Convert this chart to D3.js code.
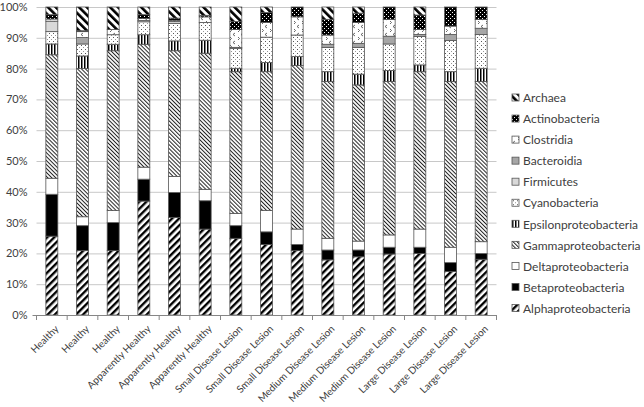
<!DOCTYPE html>
<html>
<head>
<meta charset="utf-8">
<script src="https://cdn.jsdelivr.net/npm/d3@7"></script>
<style>
  body { margin: 0; background: #fff; }
  text { font-family: Lato, "Open Sans", sans-serif; fill: #404040; }
</style>
</head>
<body>
<svg id="chart" width="644" height="407"></svg>
<script>
// sample groups (one bar each)
var categories = ["Healthy", "Healthy", "Healthy",
  "Apparently Healthy", "Apparently Healthy", "Apparently Healthy",
  "Small Disease Lesion", "Small Disease Lesion", "Small Disease Lesion",
  "Medium Disease Lesion", "Medium Disease Lesion", "Medium Disease Lesion",
  "Large Disease Lesion", "Large Disease Lesion", "Large Disease Lesion"];

// relative abundance (%), bottom to top of the stack
var alphaproteobacteria   = [25.6, 20.9, 20.9, 37.0, 31.7, 27.9, 24.9, 22.9, 20.9, 17.9, 18.9, 19.8, 20.0, 14.1, 18.1];
var betaproteobacteria    = [13.6, 8.1, 9.1, 7.1, 8.1, 9.2, 4.1, 4.1, 2.0, 3.2, 2.2, 2.2, 2.0, 2.9, 1.9];
var deltaproteobacteria   = [5.2, 2.9, 3.9, 3.9, 5.2, 3.7, 4.0, 6.9, 5.0, 3.8, 2.9, 4.0, 5.9, 5.0, 3.8];
var gammaproteobacteria   = [40.1, 48.1, 51.9, 39.9, 40.8, 44.2, 46.0, 45.1, 53.1, 50.9, 50.7, 49.8, 51.1, 53.8, 52.0];
var epsilonproteobacteria = [3.5, 4.1, 2.1, 3.1, 3.2, 4.2, 1.1, 3.0, 2.9, 3.2, 3.5, 3.6, 2.2, 3.2, 4.3];
var cyanobacteria         = [4.0, 3.9, 3.1, 4.2, 5.7, 5.8, 6.5, 8.2, 7.0, 7.9, 8.7, 8.6, 9.2, 10.1, 11.0];
var firmicutes            = [3.4, 0, 0, 0.4, 0.6, 0, 0, 0, 0, 0, 0, 0, 0, 0, 0];
var bacteroidia           = [0, 2.1, 0, 0, 0, 0, 0.3, 0, 0, 1.0, 1.3, 2.5, 0.7, 2.0, 2.0];
var clostridia            = [0.7, 1.9, 1.7, 0.7, 0.4, 1.8, 5.8, 4.8, 5.9, 3.0, 6.8, 5.5, 1.6, 2.7, 2.9];
var actinobacteria        = [1.4, 0.3, 0, 1.2, 0.7, 0.5, 2.6, 3.2, 3.2, 5.1, 3.0, 4.0, 4.7, 6.2, 4.0];
var archaea               = [2.5, 7.7, 7.3, 2.5, 3.6, 2.7, 4.7, 1.8, 0, 4.0, 2.0, 0, 2.6, 0, 0];

var seriesNames = ["Alphaproteobacteria", "Betaproteobacteria", "Deltaproteobacteria",
  "Gammaproteobacteria", "Epsilonproteobacteria", "Cyanobacteria", "Firmicutes",
  "Bacteroidia", "Clostridia", "Actinobacteria", "Archaea"];
var seriesValues = [alphaproteobacteria, betaproteobacteria, deltaproteobacteria,
  gammaproteobacteria, epsilonproteobacteria, cyanobacteria, firmicutes,
  bacteroidia, clostridia, actinobacteria, archaea];
var yTicks = [0, 10, 20, 30, 40, 50, 60, 70, 80, 90, 100];

var svg = d3.select("#chart");
var defs = svg.append("defs");

// ---- fill patterns (Excel style black & white) ----
function stripePattern(id, size, bar, angle, color) {
  var p = defs.append("pattern")
    .attr("id", id).attr("patternUnits", "userSpaceOnUse")
    .attr("width", size).attr("height", size)
    .attr("patternTransform", "rotate(" + angle + ")");
  p.append("rect").attr("width", size).attr("height", size).attr("fill", "#fff");
  p.append("rect").attr("width", bar).attr("height", size).attr("fill", color);
}
stripePattern("p-alpha", 5, 2.4, 45, "#000");
stripePattern("p-gamma", 2.8, 1, -45, "#222");
stripePattern("p-eps", 3, 1.5, 0, "#000");
stripePattern("p-arch", 5.5, 2.6, -45, "#000");

// small dots
var pc = defs.append("pattern").attr("id", "p-cyano").attr("patternUnits", "userSpaceOnUse")
  .attr("width", 4).attr("height", 4);
pc.append("rect").attr("width", 4).attr("height", 4).attr("fill", "#fff");
pc.append("rect").attr("x", 1).attr("y", 1).attr("width", 1).attr("height", 1).attr("fill", "#555");
pc.append("rect").attr("x", 3).attr("y", 3).attr("width", 1).attr("height", 1).attr("fill", "#999");

// confetti marks
var pl = defs.append("pattern").attr("id", "p-clos").attr("patternUnits", "userSpaceOnUse")
  .attr("width", 8).attr("height", 8);
pl.append("rect").attr("width", 8).attr("height", 8).attr("fill", "#fff");
pl.append("path").attr("d", "M3,1 L1,2.5 L3,4 M6,5 L7.5,6.5 L6,8")
  .attr("fill", "none").attr("stroke", "#444").attr("stroke-width", 0.8);

// black with white dots
var pa = defs.append("pattern").attr("id", "p-actino").attr("patternUnits", "userSpaceOnUse")
  .attr("width", 4).attr("height", 4);
pa.append("rect").attr("width", 4).attr("height", 4).attr("fill", "#000");
pa.append("rect").attr("x", 0).attr("y", 0).attr("width", 1).attr("height", 1).attr("fill", "#fff");
pa.append("rect").attr("x", 2).attr("y", 2).attr("width", 1).attr("height", 1).attr("fill", "#fff");

var fills = {
  "Alphaproteobacteria": "url(#p-alpha)",
  "Betaproteobacteria": "#000",
  "Deltaproteobacteria": "#fff",
  "Gammaproteobacteria": "url(#p-gamma)",
  "Epsilonproteobacteria": "url(#p-eps)",
  "Cyanobacteria": "url(#p-cyano)",
  "Firmicutes": "#d9d9d9",
  "Bacteroidia": "#a6a6a6",
  "Clostridia": "url(#p-clos)",
  "Actinobacteria": "url(#p-actino)",
  "Archaea": "url(#p-arch)"
};

// ---- data table for d3.stack ----
var rows = categories.map(function(c, i) {
  var r = { idx: i, name: c };
  seriesNames.forEach(function(s, k) { r[s] = seriesValues[k][i]; });
  return r;
});
var stacked = d3.stack().keys(seriesNames)(rows);

// ---- scales ----
var plotLeft = 36.5, plotRight = 496.5, plotTop = 7, plotBottom = 315;
var x = d3.scaleBand().domain(d3.range(categories.length))
  .range([plotLeft, plotRight]).paddingInner(0.61).paddingOuter(0.305);
var y = d3.scaleLinear().domain([0, 100]).range([plotBottom, plotTop]);

// gridlines
svg.append("g").selectAll("line").data(yTicks.slice(1)).join("line")
  .attr("x1", plotLeft).attr("x2", plotRight)
  .attr("y1", function(d) { return y(d) + 0.5; }).attr("y2", function(d) { return y(d) + 0.5; })
  .attr("stroke", "#c8c8c8").attr("stroke-width", 1);

// y axis labels
var yAxis = svg.append("g").attr("transform", "translate(" + plotLeft + ",0)")
  .call(d3.axisLeft(y).tickValues(yTicks).tickSize(0).tickPadding(9)
    .tickFormat(function(d) { return d + "%"; }));
yAxis.select(".domain").remove();
yAxis.selectAll("text").style("font-size", "11px").attr("fill", "#404040");

// bars
svg.append("g").selectAll("g").data(stacked).join("g")
  .attr("fill", function(d) { return fills[d.key]; })
  .selectAll("rect").data(function(d) { return d; }).join("rect")
  .attr("x", function(d) { return x(d.data.idx); })
  .attr("width", x.bandwidth())
  .attr("y", function(d) { return y(d[1]); })
  .attr("height", function(d) { return y(d[0]) - y(d[1]); })
  .attr("stroke", function(d) { return (d[1] - d[0]) > 0 ? "#555" : "none"; })
  .attr("stroke-width", 0.8);

// x axis line + tick marks between categories
svg.append("line").attr("x1", plotLeft - 4).attr("x2", plotRight)
  .attr("y1", plotBottom + 0.5).attr("y2", plotBottom + 0.5)
  .attr("stroke", "#868686");
svg.append("g").selectAll("line").data(d3.range(categories.length + 1)).join("line")
  .attr("x1", function(i) { return plotLeft + i * x.step(); })
  .attr("x2", function(i) { return plotLeft + i * x.step(); })
  .attr("y1", plotBottom).attr("y2", plotBottom + 5)
  .attr("stroke", "#868686");

// x labels (rotated)
var xAxis = svg.append("g").attr("transform", "translate(0," + plotBottom + ")")
  .call(d3.axisBottom(x).tickSize(0).tickFormat(function(i) { return categories[i]; }));
xAxis.select(".domain").remove();
xAxis.selectAll("text")
  .style("font-size", "10px").attr("fill", "#404040")
  .attr("text-anchor", "end")
  .attr("transform", "translate(5,12) rotate(-45)")
  .attr("x", 0).attr("y", 0).attr("dy", "0.35em");

// legend, top entry is the top of the stack
var legend = svg.append("g").selectAll("g").data(seriesNames.slice().reverse()).join("g")
  .attr("transform", function(d, i) { return "translate(512," + (98 + i * 21.05) + ")"; });
legend.append("rect")
  .attr("x", 0).attr("y", -4).attr("width", 7).attr("height", 7)
  .attr("fill", function(d) { return fills[d]; })
  .attr("stroke", "#555").attr("stroke-width", 0.8);
legend.append("text")
  .attr("x", 11).attr("dy", "0.35em")
  .style("font-size", "12px").attr("fill", "#262626")
  .text(function(d) { return d; });
</script>
</body>
</html>
